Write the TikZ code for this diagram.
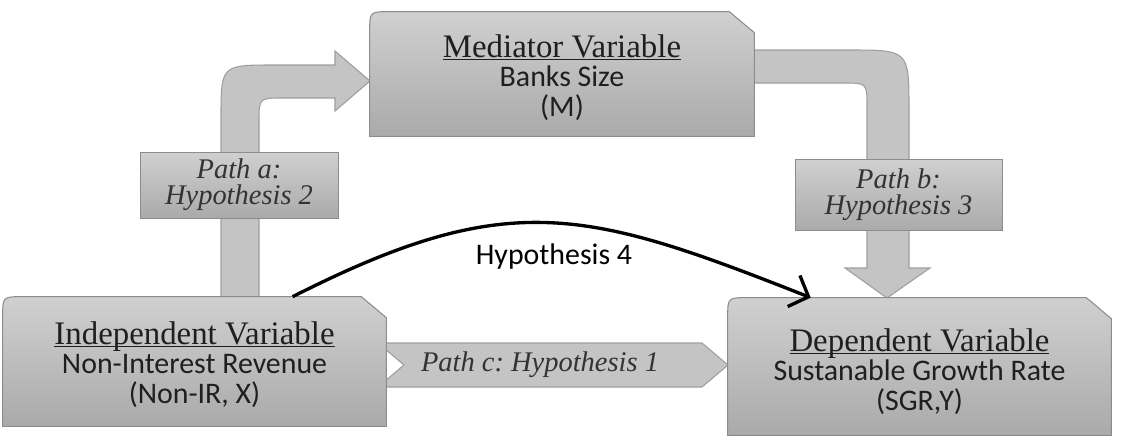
\documentclass[tikz,border=0pt]{standalone}
\usepackage{fontspec}
\setmainfont{Liberation Serif}
\setsansfont{Carlito}
\usetikzlibrary{positioning, arrows.meta, calc, backgrounds}
\definecolor{boxtop}{RGB}{208,208,208}
\definecolor{boxbot}{RGB}{170,170,170}
\definecolor{boxline}{RGB}{140,140,140}
\definecolor{arrowfill}{RGB}{196,196,196}
\definecolor{arrowline}{RGB}{158,158,158}
\newcommand{\headfont}{\rmfamily\fontsize{18.7pt}{17pt}\selectfont}
\newcommand{\headline}[1]{{\headfont\underline{\smash{#1}}}}
% box with round top-left and cut top-right corner
\newcommand{\varbox}[1]{%
  \path[boxshape] (#1.south west) -- ($(#1.north west)+(0,20)$) .. controls (#1.north west) .. ($(#1.north west)+(20,0)$)
    -- ($(#1.north east)+(-25,0)$) -- ($(#1.north east)+(0,21)$) -- (#1.south east) -- cycle;}

\begin{document}
\begin{tikzpicture}[
        x=0.02cm, y=-0.02cm,
        varnode/.style={rectangle, inner sep=0pt, align=center, text=black!88, font=\sffamily\fontsize{17pt}{17pt}\selectfont},
        pathlabel/.style={rectangle, draw=boxline, top color=boxtop, bottom color=boxbot, inner sep=0pt, align=center, text=black!80, font=\itshape\fontsize{16.2pt}{14.7pt}\selectfont},
        blockarrow/.style={fill=arrowfill, draw=arrowline, line width=0.6pt},
        boxshape/.style={draw=boxline, top color=boxtop, bottom color=boxbot, line width=0.6pt},
        hyparrow/.style={line width=1.9pt, -{Straight Barb[length=9pt, width=19pt]}}
    ]
    \useasboundingbox (0,0) rectangle (1133,440);

    % Nodes
    \node (med) [varnode, minimum width=7.68cm, minimum height=2.48cm] at (562,74) {};
    \node (indep) [varnode, minimum width=7.66cm, minimum height=2.58cm] at (194.5,361.5) {};
    \node (dep) [varnode, minimum width=7.66cm, minimum height=2.74cm] at (919.5,366.5) {};
    \node (medtext) [varnode] at (562,89) {\headline{Mediator Variable}\\Banks Size\\(M)};
    \node (indeptext) [varnode] at (194.5,376) {\headline{Independent Variable}\\Non-Interest Revenue\\(Non-IR, X)};
    \node (deptext) [varnode] at (919.5,383) {\headline{Dependent Variable}\\Sustanable Growth Rate\\(SGR,Y)};

    \node (patha) [pathlabel, minimum width=3.96cm, minimum height=1.32cm] at (239,185) {Path a:\\Hypothesis 2};
    \node (pathb) [pathlabel, minimum width=4.14cm, minimum height=1.42cm] at (898.5,194.5) {Path b:\\Hypothesis 3};
    \node (pathc) [text=black!80, font=\itshape\fontsize{16.2pt}{14.7pt}\selectfont] at (540,365) {Path c:\ Hypothesis 1};
    \node (hypo) [font=\sffamily\fontsize{17pt}{17pt}\selectfont] at (554,257) {Hypothesis 4};

    % Block arrows and boxes
    \begin{scope}[on background layer]
    \draw [blockarrow] (221,300) -- (221,118) .. controls (221,65) .. (274,65) -- (335,65) -- (335,51) -- (370,81)
        -- (335,111) -- (335,98) -- (283,98) .. controls (259,98) .. (259,122) -- (259,300) -- cycle;
    \draw [blockarrow] (745,50) -- (849,50) .. controls (909,50) .. (909,110) -- (909,268) -- (930,268) -- (887,298)
        -- (845,268) -- (867,268) -- (867,107) .. controls (867,83) .. (843,83) -- (745,83) -- cycle;
    \draw [blockarrow] (378,343) -- (702,343) -- (728,365) -- (702,387) -- (378,387) -- (404,365) -- cycle;
    \varbox{med}
    \varbox{indep}
    \varbox{dep}
    \end{scope}

    % Arrows
    \coordinate (hfrom) at ($(indep.north west)+(290,0)$);
    \coordinate (hto) at ($(dep.north west)+(83,0)$);
    \draw [hyparrow] (hfrom) .. controls (509,187) and (586,209) .. (hto);

\end{tikzpicture}
\end{document}
